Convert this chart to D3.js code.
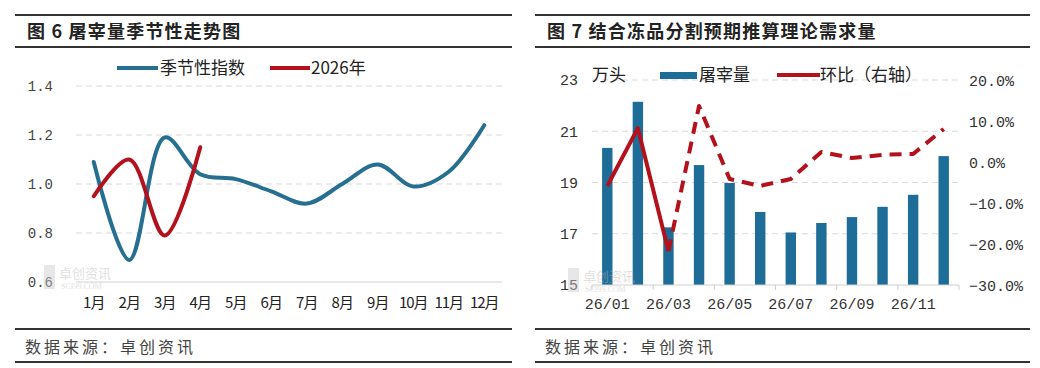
<!DOCTYPE html>
<html><head><meta charset="utf-8">
<script src="https://cdn.jsdelivr.net/npm/d3@7"></script>
<style>
html,body{margin:0;padding:0;background:#fff;}
svg{display:block;}
</style></head>
<body>
<svg id="c" width="1040" height="368"></svg>
<script>
// ---------- data ----------
const months = ["1月","2月","3月","4月","5月","6月","7月","8月","9月","10月","11月","12月"];
const seasonalIndex = [1.09,0.69,1.19,1.04,1.02,0.97,0.92,1.00,1.08,0.99,1.05,1.24];
const y2026 = [0.95,1.10,0.79,1.15];
const leftTicks = [0.6,0.8,1.0,1.2,1.4];

const periods = ["26/01","26/02","26/03","26/04","26/05","26/06","26/07","26/08","26/09","26/10","26/11","26/12"];
const slaughter = [20.35,22.15,17.25,19.68,18.98,17.85,17.05,17.42,17.65,18.05,18.52,20.03];
const mom = [-0.056,0.085,-0.215,0.139,-0.039,-0.056,-0.039,0.027,0.012,0.020,0.022,0.083];
const rightLeftTicks = [15,17,19,21,23];
const rightRightTicks = [-0.3,-0.2,-0.1,0,0.1,0.2];
const periodLabels = ["26/01","26/03","26/05","26/07","26/09","26/11"];

// ---------- styles ----------
const CJK = "'Noto Sans CJK SC','Noto Sans',sans-serif";
const MONO = "'Liberation Mono','DejaVu Sans Mono',monospace";
const BLUE = "#266f91", RED = "#b3121c", BAR = "#1e6c98";
const svg = d3.select("#c");

function frame(x0, x1, title){
  const g = svg.append("g");
  [15,47,329,362].forEach(y=>{
    g.append("line").attr("x1",x0).attr("x2",x1).attr("y1",y).attr("y2",y)
      .attr("stroke","#333").attr("stroke-width",2);
  });
  g.append("text").attr("x",x0+12).attr("y",38).text(title)
    .attr("font-family",CJK).attr("font-weight","bold").attr("font-size",18)
    .attr("letter-spacing",1.2).attr("fill","#222");
  g.append("text").attr("x",x0+10).attr("y",353).text("数据来源：卓创资讯")
    .attr("font-family",CJK).attr("font-size",16).attr("letter-spacing",3)
    .attr("fill","#444");
}
function watermark(x,y){
  const g = svg.append("g").attr("opacity",0.45);
  g.append("rect").attr("x",x).attr("y",y-15).attr("width",11).attr("height",24).attr("fill","#ccc");
  g.append("text").attr("x",x+15).attr("y",y-2).text("卓创资讯")
    .attr("font-family",CJK).attr("font-size",13).attr("fill","#bbb");
  g.append("text").attr("x",x+17).attr("y",y+9).text("SCI99.COM")
    .attr("font-family","'Liberation Serif',serif").attr("font-size",8).attr("fill","#bbb");
}

frame(15,512,"图 6 屠宰量季节性走势图");
frame(535,1030,"图 7 结合冻品分割预期推算理论需求量");

// ---------- left chart ----------
{
  const x = d3.scaleBand().domain(months).range([76,502]).padding(0);
  const y = d3.scaleLinear().domain([0.6,1.4]).range([282,86]);
  const g = svg.append("g");
  watermark(44,280);
  // grid
  g.selectAll("line.grid").data(leftTicks.filter(d=>d>0.6)).join("line")
    .attr("x1",76).attr("x2",502).attr("y1",d=>y(d)).attr("y2",d=>y(d))
    .attr("stroke","#d9d9d9").attr("stroke-dasharray","6,4").attr("stroke-width",1);
  g.append("line").attr("x1",76).attr("x2",502).attr("y1",y(0.6)).attr("y2",y(0.6))
    .attr("stroke","#d0d0d0").attr("stroke-width",1);
  // y axis labels
  const ya = d3.axisLeft(y).tickValues(leftTicks).tickFormat(d3.format(".1f")).tickSize(0).tickPadding(0);
  const yg = g.append("g").attr("transform","translate(53,0)").call(ya);
  yg.select(".domain").remove();
  yg.selectAll("text").attr("font-family",MONO).attr("font-size",14).attr("fill","#444");
  // x axis labels
  const xa = d3.axisBottom(x).tickSize(0).tickPadding(0);
  const xg = g.append("g").attr("transform","translate(0,297)").call(xa);
  xg.select(".domain").remove();
  xg.selectAll("text").attr("font-family",CJK).attr("font-size",15).attr("fill","#222")
    .attr("letter-spacing",-1);
  const line = d3.line().x((d,i)=>x(months[i])+x.bandwidth()/2).y(d=>y(d)).curve(d3.curveCatmullRom.alpha(0.5));
  g.append("path").datum(seasonalIndex).attr("d",line).attr("fill","none")
    .attr("stroke",BLUE).attr("stroke-width",4).attr("stroke-linecap","round");
  g.append("path").datum(y2026).attr("d",line).attr("fill","none")
    .attr("stroke",RED).attr("stroke-width",4).attr("stroke-linecap","round");
  // legend
  const lg = g.append("g");
  lg.append("line").attr("x1",117).attr("x2",158).attr("y1",68).attr("y2",68).attr("stroke",BLUE).attr("stroke-width",4);
  lg.append("text").attr("x",160).attr("y",74).text("季节性指数").attr("font-family",CJK).attr("font-size",17).attr("fill","#222");
  lg.append("line").attr("x1",270).attr("x2",310).attr("y1",68).attr("y2",68).attr("stroke",RED).attr("stroke-width",4);
  lg.append("text").attr("x",311).attr("y",74).text("2026年").attr("font-family",CJK).attr("font-size",17).attr("fill","#222");
}

// ---------- right chart ----------
{
  const x = d3.scaleBand().domain(periods).range([592,959]).padding(0);
  const yl = d3.scaleLinear().domain([15,23]).range([285,80]);
  const yr = d3.scaleLinear().domain([-0.3,0.2]).range([286,81]);
  const g = svg.append("g");
  // grid
  g.selectAll("line.grid").data(rightLeftTicks.filter(d=>d>15)).join("line")
    .attr("x1",592).attr("x2",959).attr("y1",d=>yl(d)).attr("y2",d=>yl(d))
    .attr("stroke","#d9d9d9").attr("stroke-dasharray","6,4").attr("stroke-width",1);
  // bars
  const bw = x.step()*0.34;
  g.selectAll("rect.bar").data(slaughter).join("rect")
    .attr("x",(d,i)=>x(periods[i])+x.bandwidth()/2-bw/2).attr("width",bw)
    .attr("y",d=>yl(d)).attr("height",d=>yl(15)-yl(d)).attr("fill",BAR);
  watermark(568,283);
  // x axis
  g.append("line").attr("x1",592).attr("x2",959).attr("y1",yl(15)).attr("y2",yl(15)).attr("stroke","#d0d0d0");
  const tickIdx = d3.range(0,13,2);
  g.selectAll("line.tk").data(tickIdx).join("line")
    .attr("x1",d=>592+d*x.step()).attr("x2",d=>592+d*x.step())
    .attr("y1",yl(15)).attr("y2",yl(15)+5).attr("stroke","#d0d0d0");
  const xa = d3.axisBottom(x).tickValues(periodLabels).tickSize(0).tickPadding(0);
  const xg = g.append("g").attr("transform","translate(0,298)").call(xa);
  xg.select(".domain").remove();
  xg.selectAll("text").attr("font-family",MONO).attr("font-size",15).attr("fill","#333");
  // left axis labels
  const yla = d3.axisLeft(yl).tickValues(rightLeftTicks).tickFormat(d3.format("d")).tickSize(0).tickPadding(0);
  const ylg = g.append("g").attr("transform","translate(578,0)").call(yla);
  ylg.select(".domain").remove();
  ylg.selectAll("text").attr("font-family",MONO).attr("font-size",15).attr("fill","#333");
  // right axis labels
  const yra = d3.axisRight(yr).tickValues(rightRightTicks).tickFormat(d3.format(".1%")).tickSize(0).tickPadding(0);
  const yrg = g.append("g").attr("transform","translate(969,0)").call(yra);
  yrg.select(".domain").remove();
  yrg.selectAll("text").attr("font-family",MONO).attr("font-size",15).attr("fill","#333");
  // line: solid for first three points, dashed afterwards
  const line = d3.line().x((d,i)=>x(periods[d.i])+x.bandwidth()/2).y(d=>yr(d.v));
  const pts = mom.map((v,i)=>({v,i}));
  g.append("path").datum(pts.slice(0,3)).attr("d",line).attr("fill","none")
    .attr("stroke",RED).attr("stroke-width",4).attr("stroke-linejoin","round");
  g.append("path").datum(pts.slice(2)).attr("d",line).attr("fill","none")
    .attr("stroke",RED).attr("stroke-width",4).attr("stroke-dasharray","12,8").attr("stroke-linejoin","round");
  // legend
  g.append("text").attr("x",592).attr("y",81).text("万头").attr("font-family",CJK).attr("font-size",17).attr("fill","#222");
  g.append("rect").attr("x",660).attr("y",72).attr("width",37).attr("height",7).attr("fill",BAR);
  g.append("text").attr("x",699).attr("y",81).text("屠宰量").attr("font-family",CJK).attr("font-size",17).attr("fill","#222");
  g.append("line").attr("x1",777).attr("x2",820).attr("y1",75).attr("y2",75).attr("stroke",RED).attr("stroke-width",4);
  g.append("text").attr("x",820).attr("y",81).text("环比（右轴）").attr("font-family",CJK).attr("font-size",17).attr("fill","#222");
}
</script>
</body></html>
